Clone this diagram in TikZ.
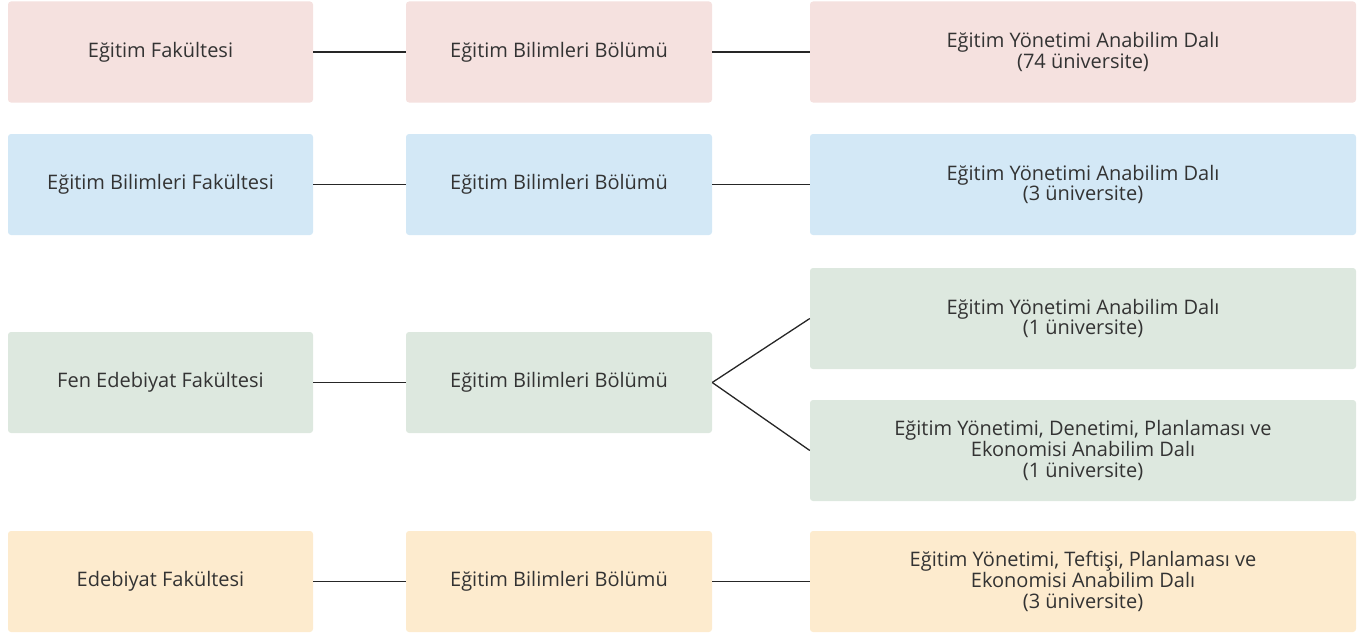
\documentclass[tikz,border=0pt]{standalone}
\usepackage{fontspec}
\setmainfont{Open Sans}
\definecolor{cpink}{HTML}{F5E1DF}
\definecolor{cblue}{HTML}{D3E8F6}
\definecolor{cgreen}{HTML}{DDE8DF}
\definecolor{cyellow}{HTML}{FDEBCE}
\definecolor{ctext}{HTML}{333333}
\tikzset{
  box/.style={rectangle, rounded corners=3pt, inner sep=0pt, align=center,
    text=ctext, font=\fontsize{20}{20.7}\selectfont},
  c1/.style={box, minimum width=305pt, minimum height=101pt},
  c2/.style={box, minimum width=306pt, minimum height=101pt},
  c3/.style={box, minimum width=546pt, minimum height=101pt},
  link/.style={draw=black!85, line width=1.3pt}
}
\begin{document}
\begin{tikzpicture}[x=1pt,y=-1pt]
\useasboundingbox (0,0) rectangle (1359,634);
% row 1
\node[c1, fill=cpink] (a1) at (160.5,52) {Eğitim Fakültesi};
\node[c2, fill=cpink] (a2) at (559,52) {Eğitim Bilimleri Bölümü};
\node[c3, fill=cpink] (a3) at (1083,52) {Eğitim Yönetimi Anabilim Dalı\\(74 üniversite)};
% row 2
\node[c1, fill=cblue] (b1) at (160.5,184.5) {Eğitim Bilimleri Fakültesi};
\node[c2, fill=cblue] (b2) at (559,184.5) {Eğitim Bilimleri Bölümü};
\node[c3, fill=cblue] (b3) at (1083,184.5) {Eğitim Yönetimi Anabilim Dalı\\(3 üniversite)};
% row 3
\node[c1, fill=cgreen] (g1) at (160.5,382.5) {Fen Edebiyat Fakültesi};
\node[c2, fill=cgreen] (g2) at (559,382.5) {Eğitim Bilimleri Bölümü};
\node[c3, fill=cgreen] (g3) at (1083,318.5) {Eğitim Yönetimi Anabilim Dalı\\(1 üniversite)};
\node[c3, fill=cgreen] (g4) at (1083,450.5) {Eğitim Yönetimi, Denetimi, Planlaması ve\\Ekonomisi Anabilim Dalı\\(1 üniversite)};
% row 4
\node[c1, fill=cyellow] (y1) at (160.5,581.5) {Edebiyat Fakültesi};
\node[c2, fill=cyellow] (y2) at (559,581.5) {Eğitim Bilimleri Bölümü};
\node[c3, fill=cyellow] (y3) at (1083,581.5) {Eğitim Yönetimi, Teftişi, Planlaması ve\\Ekonomisi Anabilim Dalı\\(3 üniversite)};
% connectors
\draw[link] (a1.east) -- (a2.west);
\draw[link] (a2.east) -- (a3.west);
\draw[link] (b1.east) -- (b2.west);
\draw[link] (b2.east) -- (b3.west);
\draw[link] (g1.east) -- (g2.west);
\draw[link] (g2.east) -- (g3.west);
\draw[link] (g2.east) -- (g4.west);
\draw[link] (y1.east) -- (y2.west);
\draw[link] (y2.east) -- (y3.west);
\end{tikzpicture}
\end{document}
